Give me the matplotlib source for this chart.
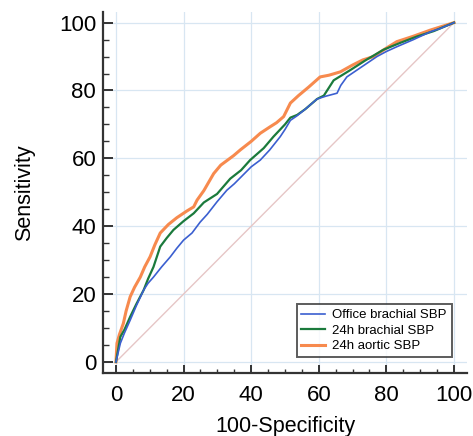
import numpy as np
import matplotlib
matplotlib.use('Agg')
import matplotlib.pyplot as plt

plt.rcParams['font.family'] = ['Liberation Sans', 'DejaVu Sans']

# ROC curves (100-specificity, sensitivity)
office_x = [0, 1.3, 2.5, 4.2, 6, 8.2, 9.5, 11.1, 13.5, 16.1, 18, 20, 22.5, 24.9, 27, 29.9,
            32.8, 35, 38, 40, 42.7, 45.5, 48.6, 50, 51.6, 53.5, 56, 59.5, 62, 65.4, 66.5,
            68.3, 72, 77.2, 80, 83.1, 88, 93, 96, 100]
office_y = [0, 5.5, 8.5, 12.3, 16.5, 21.2, 23.2, 25, 28, 31, 33.5, 35.9, 38, 41.2, 43.5, 47.2,
            50.6, 52.5, 55.5, 57.5, 59.5, 62.5, 66.4, 68.5, 71.2, 72.5, 74.5, 77.5, 78.3, 79.2, 81.5,
            84, 86.5, 90, 91.5, 92.9, 95, 97.3, 98.3, 100]

brach_x = [0, 1.3, 2.5, 4.2, 6, 8.2, 9.5, 11.1, 13.1, 15, 17, 20, 23, 26, 29.9, 33.8, 37, 39.7,
           43.7, 46.6, 50, 51.6, 53.6, 56, 59.5, 61.5, 64.4, 69.3, 74, 79.1, 84, 89, 94, 100]
brach_y = [0, 7.4, 9.5, 13.3, 17, 21.2, 24.5, 28, 34, 36.5, 38.9, 41.5, 43.8, 47, 49.5, 54,
           56.5, 59.5, 63, 66.4, 70, 72, 72.8, 74.5, 77.5, 78.5, 83, 86, 89, 92, 94, 95.9, 97.5, 100]

aortic_x = [0, 0.3, 1, 2.2, 3, 4.2, 5.5, 7.2, 8.5, 10.1, 11.5, 13.1, 15.5, 18, 21, 23, 24,
            26, 28.9, 31, 34.8, 36.8, 40, 42.7, 45.6, 47.5, 49.6, 51.6, 54, 57, 60.4, 63, 66.4,
            70, 73, 76.2, 80, 83.1, 88, 93, 100]
aortic_y = [0, 5.5, 8, 11.4, 15, 19.2, 22, 25, 28, 31, 34.5, 38, 40.5, 42.5, 44.5, 45.7, 47.7,
            50.5, 55.5, 58, 60.8, 62.5, 65, 67.4, 69.3, 70.5, 72.3, 76.3, 78.5, 81, 84, 84.5, 85.5,
            87.5, 89, 90, 92.5, 94.4, 96, 97.8, 100]

labels = ['Office brachial SBP', '24h brachial SBP', '24h aortic SBP']
colors = ['#3b5fd0', '#1b7a3c', '#f78a4e']

fig = plt.figure(figsize=(4.73, 4.36), dpi=100)
ax = fig.add_axes([0.218, 0.145, 0.769, 0.828])

ax.plot([0, 100], [0, 100], color='#e6c6c6', lw=1.0, zorder=1)
h3, = ax.plot(aortic_x, aortic_y, color=colors[2], lw=2.2, zorder=2)
h2, = ax.plot(brach_x, brach_y, color=colors[1], lw=1.6, zorder=3)
h1, = ax.plot(office_x, office_y, color=colors[0], lw=1.2, zorder=4)

ax.set_xlim(-3.8, 103.8)
ax.set_ylim(-3.2, 103.2)
ticks = [0, 20, 40, 60, 80, 100]
ax.set_xticks(ticks)
ax.set_yticks(ticks)
ax.set_xticks(np.arange(0, 101, 5), minor=True)
ax.set_yticks(np.arange(0, 101, 5), minor=True)
ax.grid(True, which='major', color='#d8e6f2', lw=0.9)
ax.set_axisbelow(True)

for s in ['top', 'right']:
    ax.spines[s].set_visible(False)
for s in ['left', 'bottom']:
    ax.spines[s].set_color('#333333')
    ax.spines[s].set_linewidth(1.6)

ax.tick_params(axis='y', which='major', direction='in', length=7, width=1.4,
               color='#333333', labelsize=16, pad=5)
ax.tick_params(axis='y', which='minor', direction='in', length=4, width=1.0, color='#333333')
ax.tick_params(axis='x', which='major', direction='in', length=6, width=1.4,
               color='#333333', labelsize=16, pad=9)
ax.tick_params(axis='x', which='minor', direction='in', length=3, width=1.0, color='#333333')

ax.set_xlabel('100-Specificity', fontsize=15.5, labelpad=7)
ax.set_ylabel('Sensitivity', fontsize=15.5, labelpad=17)

leg = ax.legend([h1, h2, h3], labels, loc='lower right', bbox_to_anchor=(0.958, 0.044),
                fontsize=9.5, frameon=True, fancybox=False, handlelength=1.75,
                handletextpad=0.6, labelspacing=0.25, borderpad=0.35, borderaxespad=0)
leg.get_frame().set_edgecolor('#333333')
leg.get_frame().set_linewidth(1.4)

fig.savefig('out.png', dpi=100)
